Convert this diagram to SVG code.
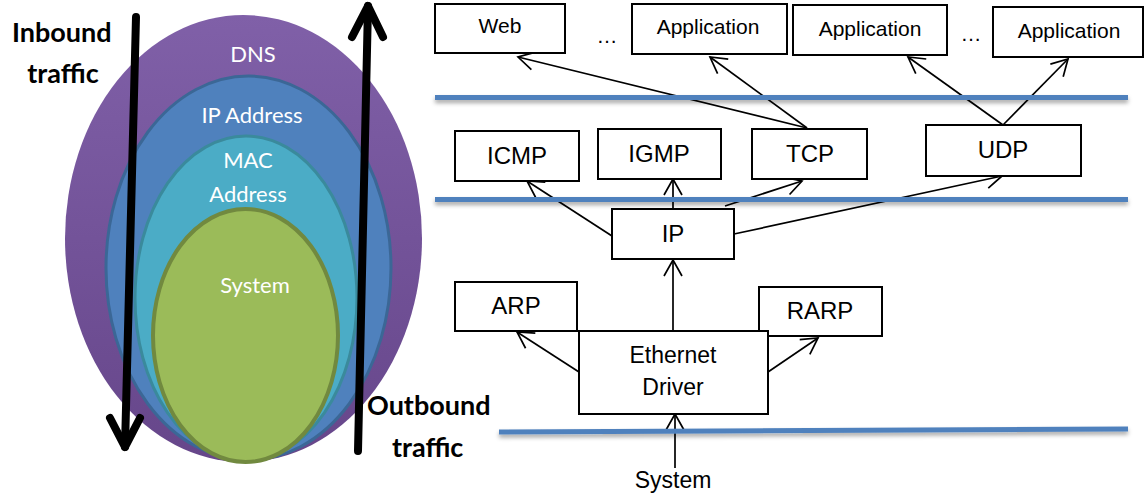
<svg xmlns="http://www.w3.org/2000/svg" width="1146" height="494" viewBox="0 0 1146 494">
  <style>
    .box { fill: #ffffff; stroke: #000000; stroke-width: 2; }
    .lbl { font-family: "Liberation Sans", Arial, sans-serif; fill: #000000; text-anchor: middle; }
    .t21 { font-size: 21px; }
    .t23 { font-size: 23px; }
    .t24 { font-size: 24px; }
    .ring { font-family: Lato, "Open Sans", sans-serif; fill: #ffffff; text-anchor: middle; font-size: 22px; }
    .bold { font-family: Lato, "Open Sans", sans-serif; font-weight: bold; font-size: 27px; fill: #000000; }
    .conn { fill: none; stroke: #000000; stroke-width: 1.7; marker-end: url(#open); }
    .layer { stroke: #4f81bd; stroke-width: 5; }
    .big { fill: none; stroke: #000000; stroke-width: 8; stroke-linecap: round; stroke-linejoin: round; }
  </style>
  <defs>
    <marker id="open" viewBox="-18 -11 20 22" markerWidth="20" markerHeight="22" refX="0" refY="0" orient="auto" markerUnits="userSpaceOnUse">
      <path d="M-16,-9 L0,0 L-16,9" fill="none" stroke="#000000" stroke-width="1.7"/>
    </marker>
    <linearGradient id="purple" x1="0" y1="0" x2="0" y2="1">
      <stop offset="0" stop-color="#8060a8"/>
      <stop offset="1" stop-color="#66468a"/>
    </linearGradient>
    <filter id="shadow" filterUnits="userSpaceOnUse" x="0" y="0" width="1146" height="494">
      <feDropShadow dx="0" dy="3" stdDeviation="2" flood-color="#000000" flood-opacity="0.35"/>
    </filter>
  </defs>

  <!-- nested address rings -->
  <g id="rings">
    <ellipse id="dns" cx="243.5" cy="238.5" rx="178.5" ry="223.5" fill="url(#purple)"/>
    <ellipse id="ip-address" cx="248.5" cy="268" rx="142.5" ry="192" fill="#4f81bd" stroke="#3b6796" stroke-width="3"/>
    <ellipse id="mac-address" cx="246" cy="298" rx="111" ry="162" fill="#4bacc6" stroke="#3a8a9c" stroke-width="3"/>
    <ellipse id="system-core" cx="245.5" cy="335.5" rx="92.5" ry="126.5" fill="#9bbb59" stroke="#71893f" stroke-width="4"/>
    <text class="ring" x="253" y="62">DNS</text>
    <text class="ring" x="252" y="123">IP Address</text>
    <text class="ring" x="248" y="168">MAC</text>
    <text class="ring" x="248" y="202">Address</text>
    <text class="ring" x="255" y="293">System</text>
  </g>

  <!-- traffic direction arrows -->
  <g id="inbound">
    <path class="big" d="M136,17 L125,447"/>
    <path class="big" d="M110,418 L125,447 L140,418"/>
    <text class="bold" x="12" y="42">Inbound</text>
    <text class="bold" x="63" y="83" text-anchor="middle">traffic</text>
  </g>
  <g id="outbound">
    <path class="big" d="M358,451 L368,6"/>
    <path class="big" d="M352,37 L368,6 L383,37"/>
    <text class="bold" x="367" y="415">Outbound</text>
    <text class="bold" x="392" y="457">traffic</text>
  </g>

  <!-- connectors -->
  <g id="connectors">
    <path class="conn" d="M807,128 L518,57"/>
    <path class="conn" d="M807,128 L710,57"/>
    <path class="conn" d="M1003,125 L908,57"/>
    <path class="conn" d="M1003,125 L1068,59"/>
    <path class="conn" d="M612,236 L527,181"/>
    <path class="conn" d="M673,209 L673,179"/>
    <path class="conn" d="M725,206 L802,181"/>
    <path class="conn" d="M734,234 L1002,176"/>
    <path class="conn" d="M673,331 L673,260"/>
    <path class="conn" d="M579,372 L517,332"/>
    <path class="conn" d="M768,372 L818,338"/>
    <path class="conn" d="M675,468 L675,414"/>
  </g>

  <!-- layer boundaries -->
  <g id="layers" filter="url(#shadow)">
    <line class="layer" x1="435" y1="97.5" x2="1128" y2="97.5"/>
    <line class="layer" x1="435" y1="199.5" x2="1128" y2="199.5"/>
    <line class="layer" x1="499" y1="432" x2="1128" y2="429"/>
  </g>

  <!-- application layer -->
  <g id="web">
    <rect class="box" x="435" y="4" width="130" height="49"/>
    <text class="lbl t21" x="500" y="33">Web</text>
  </g>
  <text class="lbl t21" x="607" y="43">…</text>
  <g id="application-1">
    <rect class="box" x="632" y="4" width="155" height="50"/>
    <text class="lbl t21" x="708" y="34">Application</text>
  </g>
  <g id="application-2">
    <rect class="box" x="793" y="5" width="154" height="50"/>
    <text class="lbl t21" x="870" y="36">Application</text>
  </g>
  <text class="lbl t21" x="971" y="41">…</text>
  <g id="application-3">
    <rect class="box" x="993" y="7" width="150" height="50"/>
    <text class="lbl t21" x="1069" y="38">Application</text>
  </g>

  <!-- transport / network layer -->
  <g id="icmp">
    <rect class="box" x="455" y="131" width="124" height="50"/>
    <text class="lbl t24" x="517" y="164">ICMP</text>
  </g>
  <g id="igmp">
    <rect class="box" x="598" y="129" width="123" height="50"/>
    <text class="lbl t24" x="659" y="162">IGMP</text>
  </g>
  <g id="tcp">
    <rect class="box" x="752" y="129" width="115" height="50"/>
    <text class="lbl t24" x="810" y="162">TCP</text>
  </g>
  <g id="udp">
    <rect class="box" x="926" y="125" width="155" height="51"/>
    <text class="lbl t24" x="1003" y="158">UDP</text>
  </g>
  <g id="ip">
    <rect class="box" x="612" y="209" width="122" height="50"/>
    <text class="lbl t24" x="673" y="242">IP</text>
  </g>

  <!-- link layer -->
  <g id="arp">
    <rect class="box" x="455" y="282" width="122" height="49"/>
    <text class="lbl t24" x="516" y="314">ARP</text>
  </g>
  <g id="rarp">
    <rect class="box" x="759" y="287" width="123" height="49"/>
    <text class="lbl t24" x="820" y="319">RARP</text>
  </g>
  <g id="ethernet-driver">
    <rect class="box" x="579" y="331" width="189" height="83"/>
    <text class="lbl t23" x="673" y="363">Ethernet</text>
    <text class="lbl t23" x="673" y="395">Driver</text>
  </g>
  <g id="system">
    <text class="lbl t23" x="673" y="488">System</text>
  </g>
</svg>
